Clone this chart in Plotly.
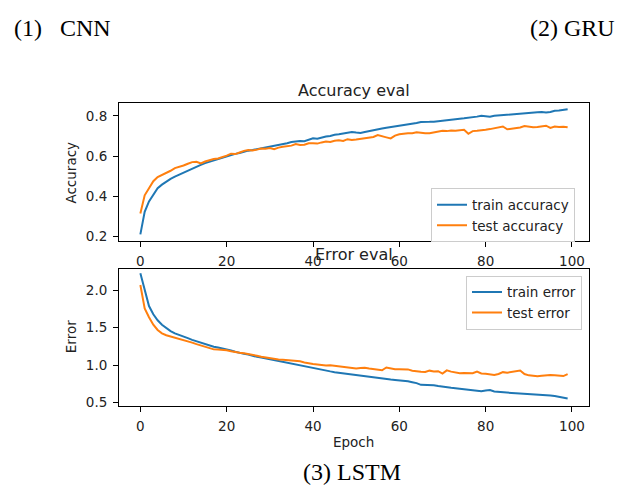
import plotly.graph_objects as go

epochs = list(range(100))

train_accuracy = [
    0.211, 0.323, 0.375, 0.410, 0.440, 0.458, 0.473, 0.487, 0.498, 0.508,
    0.518, 0.530, 0.540, 0.548, 0.556, 0.565, 0.572, 0.579, 0.585, 0.592,
    0.598, 0.605, 0.611, 0.615, 0.622, 0.627, 0.630, 0.634, 0.639, 0.644,
    0.648, 0.651, 0.655, 0.660, 0.664, 0.670, 0.673, 0.675, 0.674, 0.681,
    0.688, 0.686, 0.692, 0.697, 0.700, 0.706, 0.708, 0.712, 0.718, 0.720,
    0.717, 0.715, 0.720, 0.725, 0.729, 0.733, 0.737, 0.741, 0.744, 0.748,
    0.751, 0.754, 0.757, 0.761, 0.764, 0.769, 0.771, 0.770, 0.771, 0.774,
    0.777, 0.779, 0.781, 0.783, 0.786, 0.788, 0.790, 0.793, 0.796, 0.800,
    0.797, 0.795, 0.800, 0.802, 0.804, 0.807, 0.808, 0.809, 0.811, 0.812,
    0.814, 0.816, 0.818, 0.819, 0.817, 0.819, 0.825, 0.826, 0.829, 0.833,
]

test_accuracy = [
    0.315, 0.405, 0.440, 0.475, 0.496, 0.505, 0.518, 0.527, 0.540, 0.546,
    0.553, 0.562, 0.570, 0.572, 0.563, 0.573, 0.580, 0.585, 0.588, 0.594,
    0.602, 0.612, 0.610, 0.618, 0.626, 0.630, 0.628, 0.632, 0.638, 0.636,
    0.640, 0.634, 0.642, 0.646, 0.648, 0.652, 0.660, 0.655, 0.656, 0.664,
    0.664, 0.662, 0.668, 0.672, 0.670, 0.676, 0.678, 0.675, 0.684, 0.680,
    0.682, 0.685, 0.688, 0.692, 0.695, 0.704, 0.700, 0.693, 0.688, 0.702,
    0.708, 0.712, 0.713, 0.714, 0.718, 0.716, 0.713, 0.714, 0.718, 0.722,
    0.726, 0.724, 0.727, 0.726, 0.729, 0.731, 0.711, 0.724, 0.726, 0.727,
    0.731, 0.734, 0.738, 0.742, 0.747, 0.733, 0.735, 0.738, 0.742, 0.749,
    0.745, 0.743, 0.744, 0.748, 0.751, 0.740, 0.747, 0.745, 0.746, 0.743,
]

train_error = [
    2.231, 1.990, 1.790, 1.680, 1.600, 1.540, 1.495, 1.455, 1.425, 1.400,
    1.378, 1.360, 1.338, 1.320, 1.305, 1.285, 1.260, 1.245, 1.236, 1.224,
    1.212, 1.195, 1.178, 1.160, 1.150, 1.140, 1.122, 1.110, 1.100, 1.088,
    1.075, 1.065, 1.055, 1.045, 1.035, 1.022, 1.010, 0.998, 0.985, 0.966,
    0.958, 0.948, 0.935, 0.925, 0.915, 0.905, 0.897, 0.888, 0.878, 0.870,
    0.866, 0.862, 0.850, 0.841, 0.832, 0.825, 0.818, 0.812, 0.806, 0.801,
    0.797, 0.790, 0.782, 0.770, 0.758, 0.735, 0.733, 0.734, 0.730, 0.718,
    0.708, 0.700, 0.695, 0.690, 0.684, 0.677, 0.672, 0.666, 0.660, 0.650,
    0.660, 0.665, 0.645, 0.638, 0.633, 0.628, 0.626, 0.622, 0.619, 0.616,
    0.611, 0.606, 0.604, 0.600, 0.597, 0.593, 0.584, 0.575, 0.565, 0.553,
]

test_error = [
    2.072, 1.760, 1.640, 1.540, 1.470, 1.425, 1.400, 1.385, 1.370, 1.350,
    1.335, 1.325, 1.300, 1.280, 1.265, 1.248, 1.225, 1.210, 1.208, 1.205,
    1.198, 1.185, 1.172, 1.165, 1.158, 1.150, 1.132, 1.125, 1.110, 1.100,
    1.090, 1.082, 1.075, 1.071, 1.066, 1.058, 1.053, 1.050, 1.035, 1.022,
    1.015, 1.008, 1.000, 0.995, 0.998, 0.991, 0.985, 0.975, 0.978, 0.970,
    0.955, 0.960, 0.965, 0.955, 0.945, 0.935, 0.930, 0.968, 0.955, 0.945,
    0.945, 0.940, 0.942, 0.925, 0.915, 0.910, 0.908, 0.925, 0.915, 0.918,
    0.886, 0.929, 0.912, 0.905, 0.890, 0.895, 0.888, 0.890, 0.912, 0.888,
    0.882, 0.873, 0.866, 0.880, 0.905, 0.898, 0.905, 0.915, 0.927, 0.880,
    0.862, 0.858, 0.850, 0.856, 0.863, 0.866, 0.863, 0.858, 0.852, 0.878,
]

x_ticks = [0, 20, 40, 60, 80, 100]
acc_ticks = [0.2, 0.4, 0.6, 0.8]
err_ticks = [0.5, 1.0, 1.5, 2.0]

W, H = 624, 488
BLUE = "#1f77b4"
ORANGE = "#ff7f0e"
FONT = "DejaVu Sans"
TXT = "#222222"


def px(x):
    return x / W


def py(y):
    return 1 - y / H


fig = go.Figure()
fig.add_trace(go.Scatter(x=epochs, y=train_accuracy, mode="lines", name="train accuracy",
                         line=dict(color=BLUE, width=2), xaxis="x", yaxis="y", legend="legend"))
fig.add_trace(go.Scatter(x=epochs, y=test_accuracy, mode="lines", name="test accuracy",
                         line=dict(color=ORANGE, width=2), xaxis="x", yaxis="y", legend="legend"))
fig.add_trace(go.Scatter(x=epochs, y=train_error, mode="lines", name="train error",
                         line=dict(color=BLUE, width=2), xaxis="x2", yaxis="y2", legend="legend2"))
fig.add_trace(go.Scatter(x=epochs, y=test_error, mode="lines", name="test error",
                         line=dict(color=ORANGE, width=2), xaxis="x2", yaxis="y2", legend="legend2"))

axis_common = dict(showline=True, mirror=True, linecolor="#000000", linewidth=1,
                   ticks="outside", ticklen=5, tickwidth=1, tickcolor="#000000",
                   showgrid=False, zeroline=False, ticklabelstandoff=3,
                   tickfont=dict(family=FONT, size=13.5, color=TXT))

xdom = [px(119), px(589)]
fig.update_layout(
    width=W, height=H,
    margin=dict(l=0, r=0, t=0, b=0),
    paper_bgcolor="white", plot_bgcolor="white",
    xaxis=dict(domain=xdom, range=[-4.95, 103.95], tickvals=x_ticks, anchor="y", **axis_common),
    yaxis=dict(domain=[py(243), py(104)], range=[0.178, 0.863], tickvals=acc_ticks,
               tickformat=".1f", anchor="x", **axis_common),
    xaxis2=dict(domain=xdom, range=[-4.95, 103.95], tickvals=x_ticks, anchor="y2", **axis_common),
    yaxis2=dict(domain=[py(409), py(271)], range=[0.456, 2.29], tickvals=err_ticks,
                tickformat=".1f", anchor="x2", **axis_common),
    legend=dict(x=px(431), y=py(190), xanchor="left", yanchor="top",
                bgcolor="rgba(255,255,255,0.8)", bordercolor="#cccccc", borderwidth=1,
                font=dict(family=FONT, size=13.5, color=TXT)),
    legend2=dict(x=px(582), y=py(278), xanchor="right", yanchor="top",
                 bgcolor="rgba(255,255,255,0.8)", bordercolor="#cccccc", borderwidth=1,
                 font=dict(family=FONT, size=13.5, color=TXT)),
    showlegend=True,
)

ann = []
# subplot titles
ann.append(dict(text="Accuracy eval", x=px(354), y=py(91), xref="paper", yref="paper",
                xanchor="center", yanchor="middle", showarrow=False,
                font=dict(family=FONT, size=16, color=TXT)))
ann.append(dict(text="Error eval", x=px(354), y=py(257), xref="paper", yref="paper",
                xanchor="center", yanchor="middle", showarrow=False,
                font=dict(family=FONT, size=16, color=TXT)))
# axis labels
ann.append(dict(text="Accuracy", x=px(71), y=py(174), xref="paper", yref="paper",
                xanchor="center", yanchor="middle", textangle=-90, showarrow=False,
                font=dict(family=FONT, size=13.5, color=TXT)))
ann.append(dict(text="Error", x=px(71), y=py(340), xref="paper", yref="paper",
                xanchor="center", yanchor="middle", textangle=-90, showarrow=False,
                font=dict(family=FONT, size=13.5, color=TXT)))
ann.append(dict(text="Epoch", x=px(353), y=py(446), xref="paper", yref="paper",
                xanchor="center", yanchor="middle", showarrow=False,
                font=dict(family=FONT, size=13.5, color=TXT)))
# page captions
CAP = dict(family="Liberation Serif", size=24, color="#000000")
ann.append(dict(text="(1)&nbsp;&nbsp;&nbsp;CNN", x=px(12), y=py(28), xref="paper", yref="paper",
                xanchor="left", yanchor="middle", showarrow=False, font=CAP))
ann.append(dict(text="(2) GRU", x=px(617), y=py(28), xref="paper", yref="paper",
                xanchor="right", yanchor="middle", showarrow=False, font=CAP))
ann.append(dict(text="(3) LSTM", x=px(352), y=py(476), xref="paper", yref="paper",
                xanchor="center", yanchor="middle", showarrow=False, font=CAP))
fig.update_layout(annotations=ann)

fig.write_html("out.html")
